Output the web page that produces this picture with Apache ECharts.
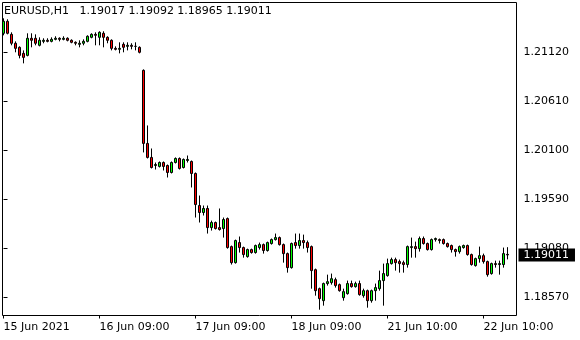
<!DOCTYPE html>
<html>
<head>
<meta charset="utf-8">
<script src="https://cdn.jsdelivr.net/npm/echarts@6/dist/echarts.min.js"></script>
<style>
html,body{margin:0;padding:0;background:#fff;}
#c{width:580px;height:340px;}
</style>
</head>
<body>
<div id="c"></div>
<script>
const symbol = 'EURUSD';
const timeframe = 'H1';
const tickLabels = ['15 Jun 2021', '16 Jun 09:00', '17 Jun 09:00', '18 Jun 09:00', '21 Jun 10:00', '22 Jun 10:00'];
const tickIndices = [0, 24, 48, 72, 96, 120];
const priceTicks = [1.18570, 1.19080, 1.19590, 1.20100, 1.20610, 1.21120];

const opens = [
1.21320,1.21445,1.21309,1.21216,1.21174,1.21111,1.21090,1.21268,1.21268,1.21195,
1.21236,1.21247,1.21236,1.21257,1.21268,1.21257,1.21268,1.21247,1.21226,1.21205,
1.21216,1.21236,1.21278,1.21309,1.21278,1.21320,1.21278,1.21247,1.21163,1.21153,
1.21205,1.21184,1.21195,1.21184,1.21174,1.20934,1.20173,1.20027,1.19943,1.19933,
1.19974,1.19943,1.19870,1.19974,1.20016,1.19922,1.19995,1.19985,1.19860,1.19526,
1.19453,1.19495,1.19296,1.19349,1.19296,1.19286,1.19390,1.19098,1.18931,1.19140,
1.19088,1.18994,1.19067,1.19036,1.19088,1.19119,1.19057,1.19130,1.19171,1.19192,
1.19119,1.19025,1.18879,1.19140,1.19109,1.19161,1.19140,1.19098,1.18858,1.18660,
1.18535,1.18713,1.18723,1.18754,1.18702,1.18566,1.18608,1.18713,1.18681,1.18713,
1.18587,1.18639,1.18535,1.18639,1.18660,1.18744,1.18796,1.18921,1.18963,1.18942,
1.18931,1.18911,1.19088,1.19098,1.19077,1.19182,1.19130,1.19067,1.19171,1.19171,
1.19171,1.19130,1.19109,1.19067,1.19046,1.19088,1.19109,1.19015,1.18900,1.18973,
1.19004,1.18942,1.18817,1.18921,1.18911,1.18911,1.19017];

const closes = [
1.21445,1.21320,1.21216,1.21163,1.21090,1.21069,1.21268,1.21247,1.21216,1.21247,
1.21247,1.21236,1.21257,1.21268,1.21257,1.21268,1.21247,1.21226,1.21216,1.21216,
1.21236,1.21289,1.21309,1.21299,1.21330,1.21278,1.21247,1.21163,1.21153,1.21163,
1.21174,1.21195,1.21184,1.21184,1.21122,1.20173,1.20027,1.19922,1.19953,1.19974,
1.19933,1.19870,1.19974,1.20016,1.19912,1.20006,1.20006,1.19860,1.19536,1.19453,
1.19495,1.19296,1.19349,1.19286,1.19276,1.19380,1.19088,1.18931,1.19161,1.19088,
1.19015,1.19067,1.19036,1.19109,1.19119,1.19057,1.19140,1.19171,1.19192,1.19119,
1.19025,1.18879,1.19130,1.19109,1.19161,1.19140,1.19088,1.18848,1.18639,1.18556,
1.18713,1.18733,1.18764,1.18692,1.18639,1.18629,1.18713,1.18681,1.18713,1.18598,
1.18639,1.18535,1.18639,1.18671,1.18744,1.18817,1.18921,1.18963,1.18931,1.18921,
1.18911,1.19098,1.19098,1.19077,1.19182,1.19130,1.19067,1.19171,1.19182,1.19161,
1.19130,1.19098,1.19067,1.19046,1.19098,1.19109,1.19015,1.18911,1.18973,1.19004,
1.18942,1.18806,1.18921,1.18911,1.18921,1.19025,1.19011];

const highs = [
1.21476,1.21466,1.21330,1.21236,1.21184,1.21142,1.21320,1.21320,1.21309,1.21278,
1.21268,1.21268,1.21278,1.21289,1.21278,1.21289,1.21278,1.21257,1.21236,1.21247,
1.21257,1.21299,1.21320,1.21330,1.21341,1.21341,1.21289,1.21257,1.21184,1.21226,
1.21226,1.21226,1.21216,1.21226,1.21184,1.20944,1.20360,1.20120,1.19974,1.19985,
1.19985,1.19953,1.19985,1.20027,1.20027,1.20016,1.20047,1.19995,1.19870,1.19630,
1.19526,1.19526,1.19369,1.19359,1.19495,1.19401,1.19401,1.19109,1.19171,1.19203,
1.19098,1.19077,1.19077,1.19119,1.19140,1.19130,1.19150,1.19182,1.19234,1.19203,
1.19130,1.19036,1.19140,1.19234,1.19234,1.19223,1.19161,1.19109,1.18869,1.18671,
1.18723,1.18806,1.18817,1.18775,1.18713,1.18660,1.18744,1.18744,1.18733,1.18744,
1.18660,1.18650,1.18650,1.18713,1.18848,1.18921,1.18973,1.18983,1.18983,1.18963,
1.18952,1.19109,1.19192,1.19150,1.19203,1.19203,1.19140,1.19182,1.19192,1.19182,
1.19182,1.19140,1.19119,1.19077,1.19109,1.19119,1.19119,1.19025,1.18983,1.19098,
1.19025,1.18952,1.18931,1.18952,1.18952,1.19088,1.19092];

const lows = [
1.21299,1.21309,1.21195,1.21122,1.21059,1.21007,1.21080,1.21174,1.21195,1.21184,
1.21216,1.21226,1.21226,1.21247,1.21236,1.21247,1.21236,1.21216,1.21195,1.21174,
1.21195,1.21226,1.21268,1.21195,1.21195,1.21174,1.21216,1.21142,1.21142,1.21111,
1.21122,1.21142,1.21153,1.21142,1.21111,1.20079,1.20016,1.19912,1.19901,1.19922,
1.19891,1.19818,1.19860,1.19964,1.19901,1.19912,1.19974,1.19714,1.19401,1.19349,
1.19422,1.19234,1.19265,1.19276,1.19265,1.19192,1.19077,1.18911,1.18921,1.19036,
1.18983,1.18983,1.19025,1.19025,1.19067,1.19025,1.19046,1.19119,1.19161,1.19109,
1.18931,1.18827,1.18869,1.19077,1.19077,1.19077,1.19036,1.18660,1.18587,1.18441,
1.18483,1.18692,1.18702,1.18671,1.18629,1.18535,1.18598,1.18671,1.18671,1.18587,
1.18566,1.18462,1.18514,1.18535,1.18639,1.18483,1.18785,1.18911,1.18848,1.18827,
1.18827,1.18879,1.18983,1.18983,1.19046,1.19119,1.19057,1.19057,1.19150,1.19130,
1.19119,1.19088,1.19036,1.18994,1.19025,1.19077,1.19004,1.18900,1.18890,1.18931,
1.18921,1.18785,1.18806,1.18879,1.18806,1.18879,1.18965];

const FONT = 'DejaVu Sans';
const n = opens.length;
const candles = opens.map((o, i) => [i, o, closes[i], lows[i], highs[i]]);
const last = n - 1;
const fmt = v => v.toFixed(5);
const header = symbol + ',' + timeframe + '   ' + fmt(opens[last]) + ' ' + fmt(highs[last]) + ' ' + fmt(lows[last]) + ' ' + fmt(closes[last]);

const chart = echarts.init(document.getElementById('c'), null, {renderer: 'canvas'});
chart.setOption({
  animation: false,
  backgroundColor: '#ffffff',
  title: {
    text: header,
    left: 4, top: 5, padding: 0,
    textStyle: {fontFamily: FONT, fontSize: 11, fontWeight: 'normal', color: '#000', lineHeight: 13}
  },
  grid: {
    left: 2.5, right: 63.5, top: 2.5, bottom: 24.5,
    show: true, borderColor: '#000', borderWidth: 1, backgroundColor: '#fff'
  },
  xAxis: {
    type: 'value',
    min: -0.25, max: 128.25,
    splitLine: {show: false},
    axisLine: {show: false},
    axisTick: {show: true, length: 3, lineStyle: {color: '#000'}, customValues: tickIndices},
    axisLabel: {
      customValues: tickIndices,
      formatter: v => tickLabels[tickIndices.indexOf(Math.round(v))] || '',
      align: 'left', margin: 6,
      fontFamily: FONT, fontSize: 11, color: '#000'
    }
  },
  yAxis: {
    type: 'value',
    position: 'right',
    min: 1.183804, max: 1.216408,
    splitLine: {show: false},
    axisLine: {show: false},
    axisTick: {show: true, length: 4, lineStyle: {color: '#000'}, customValues: priceTicks},
    axisLabel: {
      customValues: priceTicks,
      formatter: v => fmt(v),
      margin: 7,
      fontFamily: FONT, fontSize: 11, color: '#000'
    }
  },
  series: [{
    type: 'candlestick',
    data: candles,
    encode: {x: 0, y: [1, 2, 3, 4]},
    barWidth: 2,
    clip: false,
    itemStyle: {
      color: '#00ff00', color0: '#ff0000',
      borderColor: '#000', borderColor0: '#000', borderColorDoji: '#000', borderWidth: 1
    },
    markLine: {
      silent: true,
      precision: 5,
      symbol: ['none', 'none'],
      lineStyle: {color: 'rgba(0,0,0,0)', width: 1, type: 'solid', opacity: 1},
      data: [{yAxis: closes[last]}],
      label: {
        show: true, position: 'end', distance: 2,
        formatter: p => fmt(Number(p.value)),
        backgroundColor: '#000', color: '#fff', opacity: 1,
        padding: [0, 6, 0, 5], lineHeight: 13,
        fontFamily: FONT, fontSize: 11
      }
    }
  }]
});
</script>
</body>
</html>
